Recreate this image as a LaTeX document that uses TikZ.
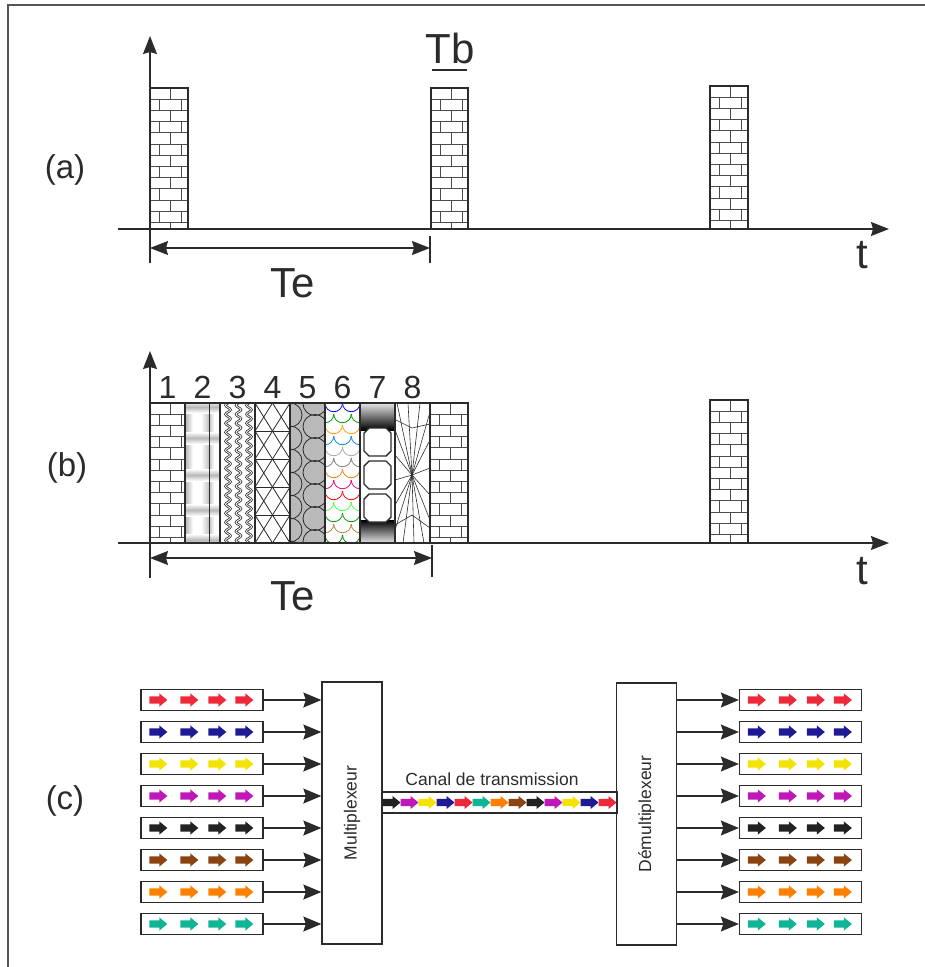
\documentclass[tikz,border=0pt]{standalone}
\usepackage{fontspec}
\setmainfont{Liberation Sans}
\usetikzlibrary{arrows.meta,decorations.pathmorphing}

\definecolor{ink}{HTML}{2B2B2B}
\definecolor{cRed}{HTML}{EE2A3A}
\definecolor{cNavy}{HTML}{1E1A96}
\definecolor{cYellow}{HTML}{F2E400}
\definecolor{cMagenta}{HTML}{C018B8}
\definecolor{cBlack}{HTML}{222222}
\definecolor{cBrown}{HTML}{8B4312}
\definecolor{cOrange}{HTML}{FF7F00}
\definecolor{cTeal}{HTML}{10B496}

\tikzset{
  axis/.style={draw=ink, line width=1.3pt, -{Stealth[length=18pt,width=14pt,inset=2pt]}},
  span/.style={draw=ink, line width=1.2pt, {Stealth[length=18pt,width=14pt,inset=2pt]}-{Stealth[length=18pt,width=14pt,inset=2pt]}},
  tick/.style={draw=ink, line width=1.1pt},
  pulse/.style={draw=ink, line width=1.6pt},
  brickln/.style={draw=ink!85, line width=0.9pt},
  thinln/.style={draw=ink, line width=0.8pt},
  big/.style={font=\fontsize{42}{42}\selectfont, text=ink, inner sep=0pt, anchor=base},
  num/.style={font=\fontsize{32}{32}\selectfont, text=ink, inner sep=0pt, anchor=base},
  part/.style={font=\fontsize{33}{33}\selectfont, text=ink, inner sep=0pt, anchor=base},
  small/.style={font=\fontsize{17.5}{17.5}\selectfont, text=ink},
  stream/.style={draw=ink, line width=1.3pt, minimum width=122pt, minimum height=21pt, inner sep=0pt},
  muxbox/.style={draw=ink, line width=1.3pt, minimum width=60pt, minimum height=262pt, inner sep=0pt},
  feed/.style={draw=ink, line width=1.2pt, -{Stealth[length=18pt,width=15pt,inset=2.5pt]}},
  blk/.pic={\fill (0,-3.6) -- (10,-3.6) -- (10,-6.6) -- (18,0) -- (10,6.6) -- (10,3.6) -- (0,3.6) -- cycle;}
}

% brick pulse: x left, x right, y top, y bottom
\newcommand{\brickcol}[4]{%
  \begin{scope}
    \clip (#1,#3) rectangle (#2,#4);
    \fill[white] (#1,#3) rectangle (#2,#4);
    \foreach \k in {0,...,13}{
      \pgfmathsetmacro{\yk}{#3+11.2*\k}
      \pgfmathsetmacro{\xo}{#1+20-11*mod(\k,2)}
      \draw[brickln] (#1,\yk) -- (#2,\yk);
      \foreach \m in {-1,0,1}
        \draw[brickln] (\xo+22*\m,\yk) -- (\xo+22*\m,\yk+11.2);
    }
  \end{scope}
  \draw[pulse] (#1,#3) rectangle (#2,#4);}

\begin{document}
\begin{tikzpicture}[x=1pt,y=-1pt]
\useasboundingbox (0,0) rectangle (925,967);
\draw[ink!80, line width=1.5pt] (8,967) -- (8,5) -- (925,5);

% (a)
\node[part] (la) at (65,178) {(a)};
\brickcol{150}{188}{88}{229}
\brickcol{431}{468}{88}{229}
\brickcol{710}{748}{86}{229}
\coordinate (a0) at (150,263);
\coordinate (a1) at (150,36);
\coordinate (t0) at (118,229);
\coordinate (t1) at (889,229);
\draw[axis] (a0) -- (a1);
\draw[axis] (t0) -- (t1);
\coordinate (ea) at (150,248);
\coordinate (eb) at (430,248);
\draw[tick] (430,236) -- (430,263);
\draw[span] (ea) -- (eb);
\node[big] (tb) at (450,63) {Tb};
\draw[tick] (432,70) -- (467,70);
\node[big] (tea) at (293,297) {Te};
\node[big] (ta) at (862,268) {t};

% (b)
\node[part] (lb) at (67,476) {(b)};
\brickcol{150}{185}{403}{543}
% 2
\begin{scope}
  \clip (185,403) rectangle (220,543);
  \fill[white] (185,403) rectangle (220,543);
  \shade[left color=gray!60, right color=white] (185,403) rectangle (193,543);
  \shade[left color=white, right color=gray!50] (201,403) rectangle (209,543);
  \shade[left color=gray!50, right color=white] (209,403) rectangle (214,543);
  \foreach \y in {407,438,475,510,540}{
    \shade[top color=white, bottom color=gray!55] (185,\y-6) rectangle (220,\y);
    \shade[top color=gray!55, bottom color=white] (185,\y) rectangle (220,\y+6);}
  \draw[thinln] (209,403) -- (209,543);
\end{scope}
% 3
\begin{scope}
  \clip (220,403) rectangle (255,543);
  \foreach \x in {228,238.5,249}
    \draw[thinln, double, double distance=0.8pt, decorate, decoration={snake, amplitude=2.5pt, segment length=9pt}] (\x,398) -- (\x,548);
\end{scope}
% 4
\begin{scope}
  \clip (255,403) rectangle (290,543);
  \foreach \y in {347,375,...,543}{
    \draw[thinln] (255,\y) -- (290,\y+56);
    \draw[thinln] (290,\y) -- (255,\y+56);
    \draw[thinln] (255,\y) -- (290,\y);}
\end{scope}
% 5
\begin{scope}
  \clip (290,403) rectangle (325,543);
  \fill[gray!55] (290,403) rectangle (325,543);
  \foreach \y in {392,415,...,560}
    \draw[thinln] (290,\y) circle (12);
  \foreach \y in {403.5,426.5,...,560}
    \draw[thinln] (315,\y) circle (12);
\end{scope}
% 6
\begin{scope}
  \clip (325,403) rectangle (360,543);
  \foreach \c [count=\i from 0] in {blue,green!60!black,orange!80!yellow,cyan!70!blue,gray!70,
      gray,orange!70!brown,magenta!80!red,red,green!70,green!60!black,brown,green!50!black}{
    \pgfmathsetmacro{\xo}{325-8.75*mod(\i,2)}
    \foreach \j in {0,1,2}
      \draw[\c, line width=0.8pt] (\xo+17.5*\j,403+11*\i) arc[start angle=180, end angle=0, radius=8.75];
  }
\end{scope}
% 7
\begin{scope}
  \clip (360,403) rectangle (395,543);
  \shade[top color=gray!20, bottom color=black] (360,403) rectangle (395,430);
  \shade[top color=black, bottom color=gray!20] (360,520) rectangle (395,543);
  \foreach \y in {428,461,494}
    \draw[ink, line width=1.4pt, fill=white] (364,\y+5) -- (369,\y) -- (386,\y) -- (391,\y+5) -- (391,\y+23) -- (386,\y+28) -- (369,\y+28) -- (364,\y+23) -- cycle;
\end{scope}
% 8
\begin{scope}
  \clip (395,403) rectangle (430,543);
  \foreach \p in {(397,403),(408,403),(420,403),(430,412),(430,440),(430,468),(430,495),(430,520),(424,543),
      (414,543),(403,543),(395,530),(395,505),(395,480),(395,455),(395,430)}
    \draw[thinln, line width=0.6pt] (412,475) -- \p;
  \draw[thinln, line width=0.6pt] (396,420) -- (412,428) -- (430,424);
  \draw[thinln, line width=0.6pt] (395,525) -- (412,515) -- (430,528);
\end{scope}
\draw[tick] (150,403) -- (430,403);
\foreach \x in {185,220,...,430}
  \draw[tick] (\x,403) -- (\x,543);
\brickcol{430}{468}{403}{543}
\brickcol{710}{748}{400}{543}
\foreach \n in {1,...,8}
  \node[num] (n\n) at (132.5+35*\n,398) {\n};
\coordinate (b0) at (150,578);
\coordinate (b1) at (150,351);
\coordinate (s0) at (118,543);
\coordinate (s1) at (889,543);
\draw[axis] (b0) -- (b1);
\draw[axis] (s0) -- (s1);
\coordinate (fa) at (150,558);
\coordinate (fb) at (432,558);
\draw[tick] (432,545) -- (432,577);
\draw[span] (fa) -- (fb);
\node[big] (teb) at (293,610) {Te};
\node[big] (tbb) at (862,584) {t};

% (c)
\node[part] (lc) at (65,809) {(c)};
\node[muxbox] (mux) at (352,813) {};
\node[small, rotate=90] at (mux.center) {Multiplexeur};
\node[muxbox] (demux) at (646.5,814) {};
\node[small, rotate=90] at (demux.center) {Démultiplexeur};
\node[draw=ink, line width=1.3pt, minimum width=235pt, minimum height=21pt, inner sep=0pt] (canal) at (499.5,802.5) {};
\node[small, anchor=base] (clabel) at (492,785) {Canal de transmission};
\foreach \c [count=\i from 0] in {cBlack,cMagenta,cYellow,cNavy,cRed,cTeal,cOrange,cBrown,cBlack,cMagenta,cYellow,cNavy,cRed}
  \pic[fill=\c] at (382.5+18*\i,802.5) {blk};
\foreach \c [count=\i from 0] in {cRed,cNavy,cYellow,cMagenta,cBlack,cBrown,cOrange,cTeal}{
  \node[stream] (in\i) at (202,700+32*\i) {};
  \node[stream] (out\i) at (800.5,700+32*\i) {};
  \foreach \dx in {9,40,68,95}{
    \pic[fill=\c] at ([xshift=\dx pt]in\i.west) {blk};
    \pic[fill=\c] at ([xshift=\dx pt]out\i.west) {blk};}
  \draw[feed] (in\i.east) -- (in\i.east -| mux.west);
  \draw[feed] (out\i.west -| demux.east) -- (out\i.west);
}
\end{tikzpicture}
\end{document}
